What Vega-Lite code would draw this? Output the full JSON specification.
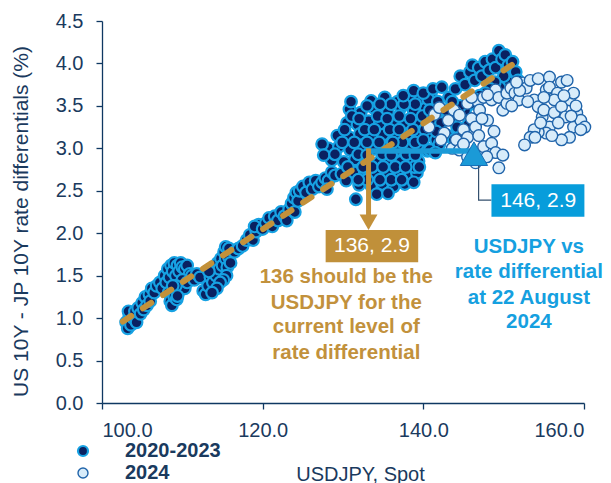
{
  "$schema": "https://vega.github.io/schema/vega-lite/v6.json",
  "width": 482,
  "height": 382,
  "autosize": {"type": "none"},
  "padding": {"left": 102, "top": 21, "right": 27, "bottom": 80},
  "background": "white",
  "config": {
    "view": {"stroke": null},
    "font": "Liberation Sans",
    "axis": {
      "domainColor": "#0f3862", "tickColor": "#0f3862", "domainWidth": 1.3, "tickWidth": 1.3, "tickSize": 6,
      "labelFont": "Liberation Sans", "labelFontSize": 20, "labelColor": "#1a3a5e",
      "titleFont": "Liberation Sans", "titleFontWeight": "normal", "titleColor": "#1a3a5e", "grid": false
    },
    "legend": {
      "orient": "none", "legendX": -29, "legendY": 420, "direction": "vertical",
      "symbolSize": 100, "symbolStrokeWidth": 2, "symbolType": "circle",
      "labelFont": "Liberation Sans", "labelFontSize": 20, "labelFontWeight": "bold", "labelColor": "#1a3a5e",
      "labelOffset": 32, "rowPadding": 2, "padding": 0
    }
  },
  "datasets": {
    "pts": [
      {"x":103.0,"y":0.95,"s":"2020-2023"},{"x":103.2,"y":0.88,"s":"2020-2023"},{"x":103.4,"y":1.02,"s":"2020-2023"},{"x":103.6,"y":0.92,"s":"2020-2023"},{"x":103.3,"y":1.08,"s":"2020-2023"},{"x":103.9,"y":1.0,"s":"2020-2023"},{"x":104.1,"y":1.08,"s":"2020-2023"},{"x":104.3,"y":0.95,"s":"2020-2023"},{"x":104.5,"y":1.12,"s":"2020-2023"},{"x":104.8,"y":1.05,"s":"2020-2023"},{"x":105.0,"y":1.18,"s":"2020-2023"},{"x":105.2,"y":1.1,"s":"2020-2023"},{"x":105.4,"y":1.25,"s":"2020-2023"},{"x":105.6,"y":1.15,"s":"2020-2023"},{"x":105.9,"y":1.28,"s":"2020-2023"},{"x":106.2,"y":1.35,"s":"2020-2023"},{"x":106.0,"y":1.2,"s":"2020-2023"},{"x":106.5,"y":1.3,"s":"2020-2023"},{"x":106.8,"y":1.38,"s":"2020-2023"},
      {"x":107.2,"y":1.42,"s":"2020-2023"},{"x":107.5,"y":1.35,"s":"2020-2023"},{"x":107.8,"y":1.5,"s":"2020-2023"},{"x":108.0,"y":1.42,"s":"2020-2023"},{"x":108.2,"y":1.58,"s":"2020-2023"},{"x":108.4,"y":1.48,"s":"2020-2023"},{"x":108.6,"y":1.62,"s":"2020-2023"},{"x":108.8,"y":1.55,"s":"2020-2023"},{"x":109.0,"y":1.65,"s":"2020-2023"},{"x":109.2,"y":1.5,"s":"2020-2023"},{"x":109.4,"y":1.62,"s":"2020-2023"},{"x":109.6,"y":1.55,"s":"2020-2023"},{"x":109.8,"y":1.65,"s":"2020-2023"},{"x":110.0,"y":1.6,"s":"2020-2023"},{"x":110.3,"y":1.58,"s":"2020-2023"},{"x":110.6,"y":1.62,"s":"2020-2023"},{"x":110.9,"y":1.52,"s":"2020-2023"},{"x":108.3,"y":1.3,"s":"2020-2023"},{"x":108.5,"y":1.2,"s":"2020-2023"},{"x":108.7,"y":1.15,"s":"2020-2023"},{"x":109.0,"y":1.25,"s":"2020-2023"},{"x":109.3,"y":1.22,"s":"2020-2023"},{"x":109.5,"y":1.3,"s":"2020-2023"},{"x":109.7,"y":1.4,"s":"2020-2023"},{"x":110.0,"y":1.45,"s":"2020-2023"},{"x":110.3,"y":1.35,"s":"2020-2023"},{"x":109.2,"y":1.38,"s":"2020-2023"},{"x":108.8,"y":1.38,"s":"2020-2023"},{"x":110.6,"y":1.42,"s":"2020-2023"},{"x":109.4,"y":1.26,"s":"2020-2023"},
      {"x":111.2,"y":1.5,"s":"2020-2023"},{"x":111.5,"y":1.45,"s":"2020-2023"},{"x":111.8,"y":1.52,"s":"2020-2023"},{"x":112.2,"y":1.48,"s":"2020-2023"},{"x":112.6,"y":1.32,"s":"2020-2023"},{"x":112.9,"y":1.28,"s":"2020-2023"},{"x":113.2,"y":1.38,"s":"2020-2023"},{"x":113.5,"y":1.48,"s":"2020-2023"},{"x":113.8,"y":1.42,"s":"2020-2023"},{"x":114.0,"y":1.58,"s":"2020-2023"},{"x":114.2,"y":1.5,"s":"2020-2023"},{"x":114.4,"y":1.65,"s":"2020-2023"},{"x":114.6,"y":1.58,"s":"2020-2023"},{"x":114.8,"y":1.7,"s":"2020-2023"},{"x":115.0,"y":1.62,"s":"2020-2023"},{"x":115.2,"y":1.78,"s":"2020-2023"},{"x":115.4,"y":1.7,"s":"2020-2023"},{"x":115.6,"y":1.6,"s":"2020-2023"},{"x":115.8,"y":1.72,"s":"2020-2023"},{"x":115.5,"y":1.5,"s":"2020-2023"},{"x":115.1,"y":1.45,"s":"2020-2023"},{"x":114.7,"y":1.42,"s":"2020-2023"},{"x":114.3,"y":1.35,"s":"2020-2023"},{"x":113.7,"y":1.3,"s":"2020-2023"},{"x":116.0,"y":1.65,"s":"2020-2023"},{"x":113.3,"y":1.55,"s":"2020-2023"},{"x":115.4,"y":1.84,"s":"2020-2023"},{"x":115.8,"y":1.82,"s":"2020-2023"},
      {"x":116.5,"y":1.78,"s":"2020-2023"},{"x":117.0,"y":1.82,"s":"2020-2023"},{"x":117.5,"y":1.85,"s":"2020-2023"},{"x":118.0,"y":1.92,"s":"2020-2023"},{"x":118.4,"y":1.98,"s":"2020-2023"},{"x":118.8,"y":1.92,"s":"2020-2023"},{"x":119.2,"y":2.02,"s":"2020-2023"},{"x":119.5,"y":2.1,"s":"2020-2023"},{"x":119.0,"y":2.08,"s":"2020-2023"},{"x":120.0,"y":2.05,"s":"2020-2023"},{"x":120.4,"y":2.12,"s":"2020-2023"},{"x":120.8,"y":2.18,"s":"2020-2023"},{"x":121.2,"y":2.08,"s":"2020-2023"},{"x":121.5,"y":2.2,"s":"2020-2023"},{"x":121.9,"y":2.15,"s":"2020-2023"},{"x":122.3,"y":2.25,"s":"2020-2023"},{"x":122.7,"y":2.2,"s":"2020-2023"},{"x":123.0,"y":2.15,"s":"2020-2023"},{"x":123.3,"y":2.28,"s":"2020-2023"},{"x":123.6,"y":2.35,"s":"2020-2023"},{"x":123.9,"y":2.42,"s":"2020-2023"},{"x":124.2,"y":2.48,"s":"2020-2023"},{"x":124.0,"y":2.25,"s":"2020-2023"},{"x":124.4,"y":2.38,"s":"2020-2023"},{"x":124.6,"y":2.5,"s":"2020-2023"},
      {"x":125.0,"y":2.55,"s":"2020-2023"},{"x":125.4,"y":2.48,"s":"2020-2023"},{"x":125.8,"y":2.6,"s":"2020-2023"},{"x":126.2,"y":2.52,"s":"2020-2023"},{"x":126.6,"y":2.62,"s":"2020-2023"},{"x":127.0,"y":2.55,"s":"2020-2023"},{"x":127.4,"y":2.6,"s":"2020-2023"},{"x":127.8,"y":2.65,"s":"2020-2023"},{"x":128.2,"y":2.62,"s":"2020-2023"},{"x":128.6,"y":2.72,"s":"2020-2023"},{"x":129.0,"y":2.68,"s":"2020-2023"},{"x":128.0,"y":2.52,"s":"2020-2023"},
      {"x":133.5,"y":3.56,"s":"2020-2023"},{"x":135.2,"y":3.6,"s":"2020-2023"},{"x":136.8,"y":3.55,"s":"2020-2023"},{"x":138.3,"y":3.62,"s":"2020-2023"},{"x":139.6,"y":3.58,"s":"2020-2023"},{"x":141.0,"y":3.6,"s":"2020-2023"},
      {"x":130.8,"y":3.46,"s":"2020-2023"},{"x":132.2,"y":3.42,"s":"2020-2023"},{"x":133.9,"y":3.47,"s":"2020-2023"},{"x":135.6,"y":3.43,"s":"2020-2023"},{"x":137.2,"y":3.48,"s":"2020-2023"},{"x":138.8,"y":3.44,"s":"2020-2023"},{"x":140.3,"y":3.47,"s":"2020-2023"},{"x":141.8,"y":3.43,"s":"2020-2023"},
      {"x":130.5,"y":3.3,"s":"2020-2023"},{"x":131.8,"y":3.28,"s":"2020-2023"},{"x":133.2,"y":3.32,"s":"2020-2023"},{"x":134.6,"y":3.29,"s":"2020-2023"},{"x":136.2,"y":3.31,"s":"2020-2023"},{"x":137.7,"y":3.28,"s":"2020-2023"},{"x":139.2,"y":3.32,"s":"2020-2023"},{"x":140.6,"y":3.3,"s":"2020-2023"},{"x":142.0,"y":3.28,"s":"2020-2023"},
      {"x":129.3,"y":3.15,"s":"2020-2023"},{"x":130.8,"y":3.13,"s":"2020-2023"},{"x":132.1,"y":3.17,"s":"2020-2023"},{"x":133.6,"y":3.14,"s":"2020-2023"},{"x":135.0,"y":3.16,"s":"2020-2023"},{"x":136.5,"y":3.13,"s":"2020-2023"},{"x":138.0,"y":3.17,"s":"2020-2023"},{"x":139.5,"y":3.14,"s":"2020-2023"},{"x":141.0,"y":3.16,"s":"2020-2023"},{"x":142.5,"y":3.13,"s":"2020-2023"},
      {"x":128.2,"y":3.0,"s":"2020-2023"},{"x":129.5,"y":3.02,"s":"2020-2023"},{"x":130.9,"y":2.98,"s":"2020-2023"},{"x":132.4,"y":3.01,"s":"2020-2023"},{"x":133.8,"y":2.99,"s":"2020-2023"},{"x":135.3,"y":3.02,"s":"2020-2023"},{"x":136.7,"y":2.98,"s":"2020-2023"},{"x":138.2,"y":3.01,"s":"2020-2023"},{"x":139.6,"y":2.99,"s":"2020-2023"},{"x":140.5,"y":2.97,"s":"2020-2023"},{"x":141.3,"y":2.96,"s":"2020-2023"},
      {"x":128.6,"y":2.86,"s":"2020-2023"},{"x":130.1,"y":2.84,"s":"2020-2023"},{"x":131.5,"y":2.87,"s":"2020-2023"},{"x":132.9,"y":2.85,"s":"2020-2023"},{"x":134.4,"y":2.83,"s":"2020-2023"},{"x":135.8,"y":2.86,"s":"2020-2023"},{"x":137.2,"y":2.84,"s":"2020-2023"},{"x":138.6,"y":2.87,"s":"2020-2023"},{"x":139.4,"y":2.85,"s":"2020-2023"},
      {"x":129.8,"y":2.7,"s":"2020-2023"},{"x":131.3,"y":2.72,"s":"2020-2023"},{"x":132.7,"y":2.69,"s":"2020-2023"},{"x":134.1,"y":2.71,"s":"2020-2023"},{"x":135.6,"y":2.7,"s":"2020-2023"},{"x":137.0,"y":2.72,"s":"2020-2023"},{"x":138.4,"y":2.69,"s":"2020-2023"},{"x":139.2,"y":2.71,"s":"2020-2023"},
      {"x":132.0,"y":2.57,"s":"2020-2023"},{"x":133.5,"y":2.56,"s":"2020-2023"},{"x":134.9,"y":2.58,"s":"2020-2023"},{"x":136.3,"y":2.55,"s":"2020-2023"},{"x":137.7,"y":2.58,"s":"2020-2023"},{"x":134.2,"y":2.46,"s":"2020-2023"},{"x":135.6,"y":2.47,"s":"2020-2023"},{"x":131.6,"y":2.4,"s":"2020-2023"},
      {"x":131.1,"y":3.38,"s":"2020-2023"},{"x":134.3,"y":3.38,"s":"2020-2023"},{"x":137.0,"y":3.38,"s":"2020-2023"},{"x":139.9,"y":3.38,"s":"2020-2023"},{"x":131.4,"y":3.07,"s":"2020-2023"},{"x":134.5,"y":3.07,"s":"2020-2023"},{"x":137.4,"y":3.07,"s":"2020-2023"},{"x":140.2,"y":3.22,"s":"2020-2023"},{"x":130.6,"y":2.78,"s":"2020-2023"},{"x":133.6,"y":2.78,"s":"2020-2023"},{"x":136.5,"y":2.78,"s":"2020-2023"},{"x":138.9,"y":2.78,"s":"2020-2023"},{"x":133.0,"y":2.63,"s":"2020-2023"},{"x":136.0,"y":2.63,"s":"2020-2023"},{"x":138.8,"y":2.6,"s":"2020-2023"},{"x":136.0,"y":3.52,"s":"2020-2023"},{"x":139.0,"y":3.52,"s":"2020-2023"},{"x":132.7,"y":3.22,"s":"2020-2023"},{"x":135.8,"y":3.22,"s":"2020-2023"},{"x":138.7,"y":3.22,"s":"2020-2023"},{"x":127.4,"y":3.05,"s":"2020-2023"},{"x":127.6,"y":2.92,"s":"2020-2023"},
      {"x":129.0,"y":2.93,"s":"2020-2023"},{"x":130.2,"y":3.22,"s":"2020-2023"},{"x":131.9,"y":2.93,"s":"2020-2023"},{"x":133.0,"y":3.07,"s":"2020-2023"},{"x":134.9,"y":2.93,"s":"2020-2023"},{"x":136.2,"y":3.07,"s":"2020-2023"},{"x":137.9,"y":2.93,"s":"2020-2023"},{"x":139.0,"y":3.07,"s":"2020-2023"},{"x":130.4,"y":2.62,"s":"2020-2023"},{"x":132.5,"y":2.78,"s":"2020-2023"},{"x":135.0,"y":2.78,"s":"2020-2023"},{"x":137.8,"y":2.78,"s":"2020-2023"},{"x":131.9,"y":2.63,"s":"2020-2023"},{"x":134.6,"y":2.63,"s":"2020-2023"},{"x":137.3,"y":2.63,"s":"2020-2023"},{"x":139.5,"y":2.78,"s":"2020-2023"},{"x":133.0,"y":3.5,"s":"2020-2023"},{"x":134.6,"y":3.52,"s":"2020-2023"},{"x":137.6,"y":3.52,"s":"2020-2023"},{"x":140.6,"y":3.58,"s":"2020-2023"},{"x":132.0,"y":3.35,"s":"2020-2023"},{"x":135.5,"y":3.35,"s":"2020-2023"},{"x":138.4,"y":3.35,"s":"2020-2023"},{"x":141.2,"y":3.35,"s":"2020-2023"},{"x":129.9,"y":3.07,"s":"2020-2023"},{"x":133.0,"y":2.92,"s":"2020-2023"},{"x":136.0,"y":2.92,"s":"2020-2023"},{"x":139.0,"y":2.92,"s":"2020-2023"},{"x":131.0,"y":3.55,"s":"2020-2023"},{"x":133.9,"y":3.22,"s":"2020-2023"},{"x":137.0,"y":3.22,"s":"2020-2023"},{"x":141.6,"y":3.1,"s":"2020-2023"},{"x":140.0,"y":3.1,"s":"2020-2023"},
      {"x":137.5,"y":3.62,"s":"2020-2023"},{"x":138.8,"y":3.68,"s":"2020-2023"},{"x":140.0,"y":3.65,"s":"2020-2023"},{"x":141.2,"y":3.7,"s":"2020-2023"},{"x":142.3,"y":3.72,"s":"2020-2023"},{"x":143.2,"y":3.6,"s":"2020-2023"},{"x":144.0,"y":3.7,"s":"2020-2023"},{"x":144.6,"y":3.85,"s":"2020-2023"},{"x":145.2,"y":3.75,"s":"2020-2023"},{"x":145.8,"y":3.9,"s":"2020-2023"},{"x":146.4,"y":3.8,"s":"2020-2023"},{"x":146.1,"y":3.98,"s":"2020-2023"},{"x":146.9,"y":3.95,"s":"2020-2023"},{"x":147.3,"y":3.85,"s":"2020-2023"},{"x":147.7,"y":4.02,"s":"2020-2023"},{"x":148.2,"y":3.92,"s":"2020-2023"},{"x":148.6,"y":4.05,"s":"2020-2023"},{"x":149.0,"y":3.95,"s":"2020-2023"},{"x":149.4,"y":4.15,"s":"2020-2023"},{"x":149.8,"y":4.05,"s":"2020-2023"},{"x":150.2,"y":4.1,"s":"2020-2023"},{"x":150.6,"y":3.98,"s":"2020-2023"},{"x":151.1,"y":4.02,"s":"2020-2023"},{"x":151.5,"y":3.9,"s":"2020-2023"},{"x":151.8,"y":3.8,"s":"2020-2023"},{"x":151.2,"y":3.75,"s":"2020-2023"},{"x":150.6,"y":3.78,"s":"2020-2023"},{"x":150.0,"y":3.85,"s":"2020-2023"},{"x":149.5,"y":3.72,"s":"2020-2023"},{"x":148.9,"y":3.78,"s":"2020-2023"},{"x":148.3,"y":3.7,"s":"2020-2023"},{"x":147.7,"y":3.65,"s":"2020-2023"},{"x":147.0,"y":3.62,"s":"2020-2023"},{"x":146.4,"y":3.58,"s":"2020-2023"},{"x":145.8,"y":3.52,"s":"2020-2023"},{"x":145.2,"y":3.45,"s":"2020-2023"},{"x":144.6,"y":3.5,"s":"2020-2023"},{"x":144.0,"y":3.42,"s":"2020-2023"},{"x":143.4,"y":3.35,"s":"2020-2023"},{"x":142.8,"y":3.45,"s":"2020-2023"},{"x":142.2,"y":3.3,"s":"2020-2023"},{"x":141.6,"y":3.2,"s":"2020-2023"},{"x":140.8,"y":3.45,"s":"2020-2023"},{"x":141.8,"y":3.55,"s":"2020-2023"},{"x":143.6,"y":3.55,"s":"2020-2023"},{"x":144.2,"y":3.25,"s":"2020-2023"},{"x":143.0,"y":3.15,"s":"2020-2023"},{"x":142.0,"y":3.05,"s":"2020-2023"},{"x":143.8,"y":3.1,"s":"2020-2023"},{"x":144.8,"y":3.15,"s":"2020-2023"},{"x":145.6,"y":3.28,"s":"2020-2023"},{"x":140.8,"y":2.98,"s":"2020-2023"},{"x":141.5,"y":2.95,"s":"2020-2023"},
      {"x":140.7,"y":3.25,"s":"2024"},{"x":141.4,"y":3.4,"s":"2024"},{"x":142.0,"y":3.48,"s":"2024"},{"x":142.6,"y":3.18,"s":"2024"},{"x":142.2,"y":3.1,"s":"2024"},{"x":143.1,"y":3.33,"s":"2024"},{"x":143.6,"y":3.0,"s":"2024"},{"x":143.8,"y":3.45,"s":"2024"},{"x":144.1,"y":3.1,"s":"2024"},{"x":144.5,"y":3.39,"s":"2024"},{"x":144.5,"y":2.98,"s":"2024"},{"x":145.0,"y":3.22,"s":"2024"},{"x":145.5,"y":3.53,"s":"2024"},{"x":145.5,"y":3.13,"s":"2024"},{"x":145.5,"y":2.9,"s":"2024"},{"x":146.0,"y":3.35,"s":"2024"},{"x":146.5,"y":3.25,"s":"2024"},{"x":146.5,"y":2.83,"s":"2024"},{"x":146.8,"y":3.55,"s":"2024"},{"x":147.0,"y":3.45,"s":"2024"},{"x":147.5,"y":3.6,"s":"2024"},{"x":147.5,"y":3.02,"s":"2024"},{"x":148.0,"y":3.33,"s":"2024"},{"x":148.5,"y":3.57,"s":"2024"},{"x":148.5,"y":3.06,"s":"2024"},{"x":149.0,"y":3.69,"s":"2024"},{"x":149.0,"y":2.95,"s":"2024"},{"x":149.4,"y":3.6,"s":"2024"},{"x":149.4,"y":2.77,"s":"2024"},{"x":149.9,"y":3.45,"s":"2024"},{"x":149.9,"y":2.92,"s":"2024"},{"x":150.4,"y":3.53,"s":"2024"},{"x":150.4,"y":3.65,"s":"2024"},{"x":150.9,"y":3.71,"s":"2024"},{"x":151.4,"y":3.65,"s":"2024"},{"x":151.9,"y":3.57,"s":"2024"},{"x":152.4,"y":3.77,"s":"2024"},{"x":152.8,"y":3.71,"s":"2024"},{"x":153.3,"y":3.8,"s":"2024"},{"x":153.8,"y":3.57,"s":"2024"},{"x":154.3,"y":3.82,"s":"2024"},{"x":155.7,"y":3.84,"s":"2024"},{"x":155.3,"y":3.69,"s":"2024"},{"x":155.7,"y":3.72,"s":"2024"},{"x":156.7,"y":3.65,"s":"2024"},{"x":156.3,"y":3.57,"s":"2024"},{"x":157.2,"y":3.78,"s":"2024"},{"x":157.9,"y":3.8,"s":"2024"},{"x":158.2,"y":3.57,"s":"2024"},{"x":154.3,"y":3.49,"s":"2024"},{"x":154.8,"y":3.37,"s":"2024"},{"x":155.0,"y":3.45,"s":"2024"},{"x":156.3,"y":3.42,"s":"2024"},{"x":157.2,"y":3.49,"s":"2024"},{"x":157.7,"y":3.37,"s":"2024"},{"x":158.7,"y":3.25,"s":"2024"},{"x":159.1,"y":3.42,"s":"2024"},{"x":159.6,"y":3.33,"s":"2024"},{"x":160.1,"y":3.25,"s":"2024"},{"x":159.6,"y":3.22,"s":"2024"},{"x":158.2,"y":3.13,"s":"2024"},{"x":157.2,"y":3.1,"s":"2024"},{"x":155.7,"y":3.25,"s":"2024"},{"x":155.3,"y":3.18,"s":"2024"},{"x":154.3,"y":3.19,"s":"2024"},{"x":153.8,"y":3.22,"s":"2024"},{"x":153.3,"y":3.13,"s":"2024"},{"x":152.6,"y":3.04,"s":"2024"},{"x":148.0,"y":3.63,"s":"2024"},{"x":146.0,"y":3.6,"s":"2024"},{"x":151.0,"y":3.5,"s":"2024"},{"x":153.9,"y":3.13,"s":"2024"},
      {"x":158.7,"y":3.65,"s":"2024"},{"x":159.0,"y":3.5,"s":"2024"},{"x":156.8,"y":3.3,"s":"2024"},{"x":158.4,"y":3.38,"s":"2024"},{"x":156.0,"y":3.15,"s":"2024"},{"x":154.6,"y":3.3,"s":"2024"},{"x":153.0,"y":3.55,"s":"2024"},{"x":152.0,"y":3.68,"s":"2024"},{"x":151.6,"y":3.78,"s":"2024"},{"x":157.5,"y":3.62,"s":"2024"},{"x":155.0,"y":3.6,"s":"2024"},{"x":146.9,"y":3.15,"s":"2024"},{"x":147.9,"y":2.9,"s":"2024"},{"x":148.8,"y":3.2,"s":"2024"},{"x":147.3,"y":3.35,"s":"2024"},{"x":145.0,"y":3.05,"s":"2024"}
    ],
    "trend": [{"x":102.6,"y":0.96},{"x":151.3,"y":4.0}],
    "connector": [{"x":146.88,"y":2.795,"o":1},{"x":146.88,"y":2.391,"o":2},{"x":148.48,"y":2.391,"o":3}],
    "boxText": [
      {"x":133.6,"y":1.845,"t":"136, 2.9"},
      {"x":154.3,"y":2.38,"t":"146, 2.9"}
    ],
    "goldText": [
      {"x":130.41,"y":1.484,"t":"136 should be the"},
      {"x":130.41,"y":1.183,"t":"USDJPY for the"},
      {"x":130.41,"y":0.892,"t":"current level of"},
      {"x":130.41,"y":0.589,"t":"rate differential"}
    ],
    "blueText": [
      {"x":153.14,"y":1.841,"t":"USDJPY vs"},
      {"x":153.14,"y":1.547,"t":"rate differential"},
      {"x":153.14,"y":1.24,"t":"at 22 August"},
      {"x":153.14,"y":0.958,"t":"2024"}
    ]
  },
  "layer": [
    {
      "data": {"name": "pts"},
      "mark": {"type": "circle", "size": 135, "opacity": 1},
      "encoding": {
        "x": {"field": "x", "type": "quantitative", "scale": {"domain": [100, 160], "nice": false, "zero": false},
              "axis": {"values": [100, 120, 140, 160], "format": ".1f", "labelPadding": 11,
                       "title": "USDJPY, Spot", "titleFontSize": 20, "titleX": 258, "titleY": 77, "titleAlign": "center", "titleBaseline": "alphabetic", "titleAnchor": null}},
        "y": {"field": "y", "type": "quantitative", "scale": {"domain": [0, 4.5], "nice": false, "zero": false},
              "axis": {"values": [0, 0.5, 1, 1.5, 2, 2.5, 3, 3.5, 4, 4.5], "format": ".1f", "labelPadding": 13,
                       "title": "US 10Y - JP 10Y rate differentials (%)", "titleFontSize": 21, "titleX": -75, "titleY": 200, "titleAngle": -90, "titleAlign": "center", "titleBaseline": "alphabetic", "titleAnchor": null}},
        "fill": {"field": "s", "type": "nominal", "scale": {"domain": ["2020-2023", "2024"], "range": ["#0a2161", "#d8ecfa"]}, "legend": {"title": null}},
        "stroke": {"field": "s", "type": "nominal", "scale": {"domain": ["2020-2023", "2024"], "range": ["#17a2e3", "#2064aa"]}, "legend": {"title": null}},
        "strokeWidth": {"field": "s", "type": "nominal", "scale": {"domain": ["2020-2023", "2024"], "range": [2.2, 1.4]}, "legend": null}
      }
    },
    {
      "data": {"name": "trend"},
      "mark": {"type": "line", "color": "#c3913a", "strokeWidth": 6, "strokeDash": [10, 14], "strokeCap": "round"},
      "encoding": {"x": {"field": "x", "type": "quantitative"}, "y": {"field": "y", "type": "quantitative"}}
    },
    {
      "data": {"values": [{"x": 133.0, "x2": 146.3, "y": 2.97}]},
      "mark": {"type": "rule", "color": "#1b9ad7", "strokeWidth": 5.5},
      "encoding": {"x": {"field": "x", "type": "quantitative"}, "x2": {"field": "x2"}, "y": {"field": "y", "type": "quantitative"}}
    },
    {
      "data": {"values": [{"x": 133.18, "y": 3.0, "y2": 2.2}]},
      "mark": {"type": "rule", "color": "#c3913a", "strokeWidth": 5},
      "encoding": {"x": {"field": "x", "type": "quantitative"}, "y": {"field": "y", "type": "quantitative"}, "y2": {"field": "y2"}}
    },
    {
      "data": {"values": [{"x": 133.18, "y": 2.13}]},
      "mark": {"type": "point", "shape": "triangle-down", "size": 320, "filled": true, "color": "#c3913a", "opacity": 1},
      "encoding": {"x": {"field": "x", "type": "quantitative"}, "y": {"field": "y", "type": "quantitative"}}
    },
    {
      "data": {"values": [{"x": 146.3, "y": 2.937}]},
      "mark": {"type": "point", "shape": "triangle-up", "size": 745, "filled": true, "fill": "#1b9ad7", "stroke": "#1670b8", "strokeWidth": 1, "opacity": 1},
      "encoding": {"x": {"field": "x", "type": "quantitative"}, "y": {"field": "y", "type": "quantitative"}}
    },
    {
      "data": {"name": "connector"},
      "mark": {"type": "line", "color": "#34506e", "strokeWidth": 1.2},
      "encoding": {"x": {"field": "x", "type": "quantitative"}, "y": {"field": "y", "type": "quantitative"}, "order": {"field": "o", "type": "quantitative"}}
    },
    {
      "data": {"values": [{"x": 127.84, "x2": 139.36, "y": 2.038, "y2": 1.657}]},
      "mark": {"type": "rect", "color": "#c0903a"},
      "encoding": {
        "x": {"field": "x", "type": "quantitative"}, "x2": {"field": "x2"},
        "y": {"field": "y", "type": "quantitative"}, "y2": {"field": "y2"}
      }
    },
    {
      "data": {"values": [{"x": 148.48, "x2": 160.05, "y": 2.576, "y2": 2.195}]},
      "mark": {"type": "rect", "color": "#079ddb"},
      "encoding": {
        "x": {"field": "x", "type": "quantitative"}, "x2": {"field": "x2"},
        "y": {"field": "y", "type": "quantitative"}, "y2": {"field": "y2"}
      }
    },
    {
      "data": {"name": "boxText"},
      "mark": {"type": "text", "color": "white", "font": "Liberation Sans", "fontSize": 21, "align": "center", "baseline": "middle"},
      "encoding": {"x": {"field": "x", "type": "quantitative"}, "y": {"field": "y", "type": "quantitative"}, "text": {"field": "t"}}
    },
    {
      "data": {"name": "goldText"},
      "mark": {"type": "text", "color": "#c2913c", "font": "Liberation Sans", "fontSize": 20.5, "fontWeight": "bold", "align": "center", "baseline": "middle"},
      "encoding": {"x": {"field": "x", "type": "quantitative"}, "y": {"field": "y", "type": "quantitative"}, "text": {"field": "t"}}
    },
    {
      "data": {"name": "blueText"},
      "mark": {"type": "text", "color": "#15a0e0", "font": "Liberation Sans", "fontSize": 20.5, "fontWeight": "bold", "align": "center", "baseline": "middle"},
      "encoding": {"x": {"field": "x", "type": "quantitative"}, "y": {"field": "y", "type": "quantitative"}, "text": {"field": "t"}}
    }
  ]
}
